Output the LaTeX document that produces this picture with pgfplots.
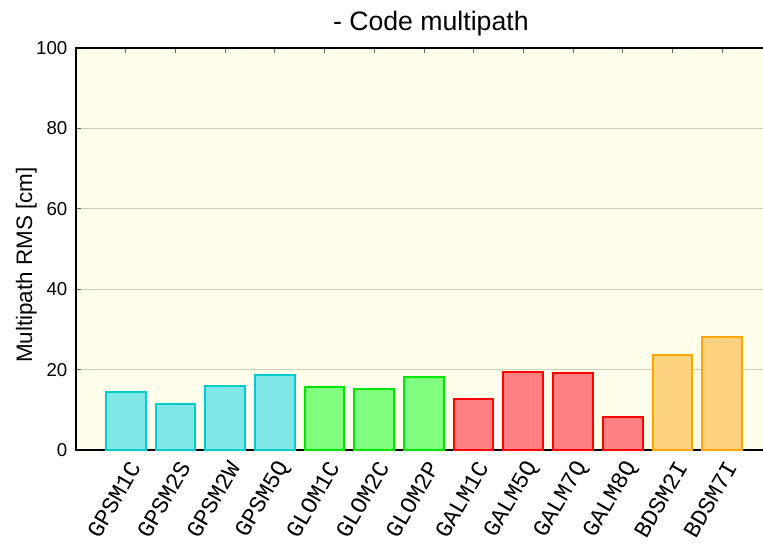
\documentclass[border=0pt]{standalone}
\usepackage{fontspec}
\setmainfont{Liberation Sans}
\newfontfamily\labmono{Liberation Mono}
\usepackage{pgfplots}
\pgfplotsset{compat=1.18}
\definecolor{bgcol}{HTML}{FFFFEC}
\definecolor{gridcol}{HTML}{CDCDBE}
\definecolor{gpsfill}{HTML}{80E6E6}
\definecolor{gpsedge}{HTML}{00CCCC}
\definecolor{glofill}{HTML}{80FF80}
\definecolor{gloedge}{HTML}{00E600}
\definecolor{galfill}{HTML}{FF8080}
\definecolor{galedge}{HTML}{FF0000}
\definecolor{bdsfill}{HTML}{FFD280}
\definecolor{bdsedge}{HTML}{FFA500}
\begin{document}
\begin{tikzpicture}
\useasboundingbox (-57pt,-70.5pt) rectangle (515.25pt,337.5pt);
\begin{axis}[
  scale only axis,
  width=521.85pt, height=301.5pt,
  xmin=0, xmax=14, ymin=0, ymax=100,
  axis background/.style={fill=bgcol},
  bar width=0.8, bar shift=0pt,
  xtick={1,...,13},
  xticklabels={GPSM1C,GPSM2S,GPSM2W,GPSM5Q,GLOM1C,GLOM2C,GLOM2P,GALM1C,GALM5Q,GALM7Q,GALM8Q,BDSM2I,BDSM7I},
  xtick pos=upper, xticklabel pos=lower,
  xticklabel style={xshift=8pt, yshift=-8pt, rotate=60, anchor=east, font=\labmono\fontsize{17.5}{19}\selectfont, inner sep=2pt},
  ytick={0,20,...,100},
  ytick pos=left,
  yticklabel style={xshift=-3pt, font=\fontsize{14}{16}\selectfont},
  /pgf/number format/assume math mode=true,
  tick align=inside,
  major tick length=4pt,
  tick style={draw=black!60, line width=0.6pt},
  ymajorgrids,
  grid style={gridcol, line width=0.8pt},
  axis line style={black, line width=1.1pt},
  title={- Code multipath},
  title style={at={(axis description cs:0.51,1)}, anchor=base, yshift=7pt, font=\fontsize{20}{24}\selectfont},
  ylabel={Multipath RMS [cm]},
  ylabel style={at={(axis description cs:-0.0632,0.46)}, anchor=base, font=\fontsize{16.8}{20}\selectfont},
]
\addplot[ybar, fill=gpsfill, draw=gpsedge, line width=1.5pt] coordinates {(1,14.5) (2,11.4) (3,15.9) (4,18.7)};
\addplot[ybar, fill=glofill, draw=gloedge, line width=1.5pt] coordinates {(5,15.7) (6,15.3) (7,18.1)};
\addplot[ybar, fill=galfill, draw=galedge, line width=1.5pt] coordinates {(8,12.7) (9,19.5) (10,19.2) (11,8.3)};
\addplot[ybar, fill=bdsfill, draw=bdsedge, line width=1.5pt] coordinates {(12,23.7) (13,28.0)};
\end{axis}
\end{tikzpicture}
\end{document}
